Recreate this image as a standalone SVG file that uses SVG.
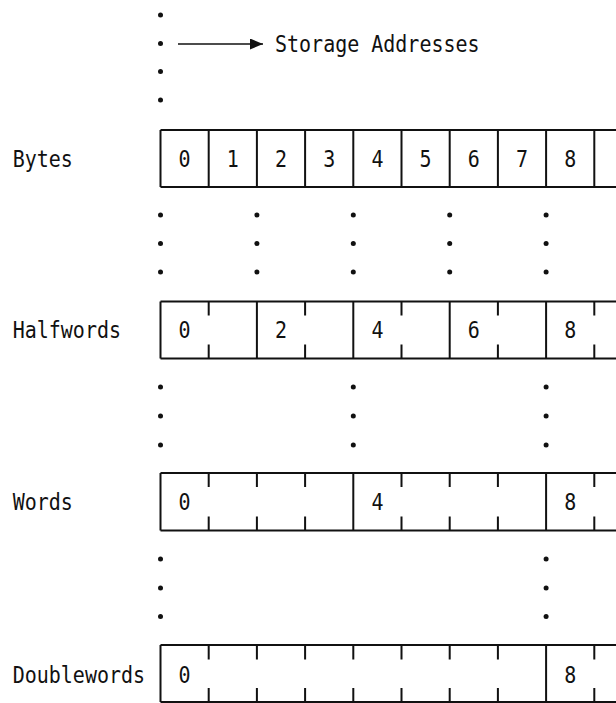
<svg xmlns="http://www.w3.org/2000/svg" width="616" height="703" viewBox="0 0 616 703">
<style>
text{font-family:"DejaVu Sans Mono","Liberation Mono",monospace;font-size:20px;fill:#111}
.d{text-anchor:middle}
.b{stroke:#111;stroke-width:2;fill:none}
.dot{fill:#111}
</style>
<defs>
<marker id="ah" markerWidth="13" markerHeight="11" refX="13" refY="5.5" orient="auto" markerUnits="userSpaceOnUse">
<polygon points="0,0 13,5.5 0,11" fill="#111"/>
</marker>
</defs>
<rect width="616" height="703" fill="#fff"/>

<g id="top-dots">
<circle class="dot" cx="160.5" cy="15" r="2.5"/>
<circle class="dot" cx="160.5" cy="43.5" r="2.5"/>
<circle class="dot" cx="160.5" cy="71.6" r="2.5"/>
<circle class="dot" cx="160.5" cy="100" r="2.5"/>
</g>

<g id="connectors">
<line x1="178" y1="44" x2="263" y2="44" stroke="#111" stroke-width="1.3" marker-end="url(#ah)"/>
</g>

<g id="storage-addresses">
<text transform="translate(275,52) scale(1,1.12)">Storage Addresses</text>
</g>

<g id="bytes">
<text transform="translate(12.7,166.5) scale(1,1.12)">Bytes</text>
<path class="b" d="M160.5 130H616M160.5 187H616
M160.5 130V187M208.7 130V187M256.9 130V187M305.1 130V187M353.3 130V187M401.5 130V187M449.7 130V187M497.9 130V187M546.1 130V187M594.3 130V187"/>
<g class="d">
<text transform="translate(184.6,166.5) scale(1,1.12)">0</text>
<text transform="translate(232.8,166.5) scale(1,1.12)">1</text>
<text transform="translate(281,166.5) scale(1,1.12)">2</text>
<text transform="translate(329.2,166.5) scale(1,1.12)">3</text>
<text transform="translate(377.4,166.5) scale(1,1.12)">4</text>
<text transform="translate(425.6,166.5) scale(1,1.12)">5</text>
<text transform="translate(473.8,166.5) scale(1,1.12)">6</text>
<text transform="translate(522,166.5) scale(1,1.12)">7</text>
<text transform="translate(570.2,166.5) scale(1,1.12)">8</text>
</g>
</g>

<g id="dots-1">
<circle class="dot" cx="160.5" cy="215" r="2.5"/><circle class="dot" cx="160.5" cy="243.5" r="2.5"/><circle class="dot" cx="160.5" cy="272" r="2.5"/>
<circle class="dot" cx="256.9" cy="215" r="2.5"/><circle class="dot" cx="256.9" cy="243.5" r="2.5"/><circle class="dot" cx="256.9" cy="272" r="2.5"/>
<circle class="dot" cx="353.3" cy="215" r="2.5"/><circle class="dot" cx="353.3" cy="243.5" r="2.5"/><circle class="dot" cx="353.3" cy="272" r="2.5"/>
<circle class="dot" cx="449.7" cy="215" r="2.5"/><circle class="dot" cx="449.7" cy="243.5" r="2.5"/><circle class="dot" cx="449.7" cy="272" r="2.5"/>
<circle class="dot" cx="546.1" cy="215" r="2.5"/><circle class="dot" cx="546.1" cy="243.5" r="2.5"/><circle class="dot" cx="546.1" cy="272" r="2.5"/>
</g>

<g id="halfwords">
<text transform="translate(12.7,338) scale(1,1.12)">Halfwords</text>
<path class="b" d="M160.5 301.5H616M160.5 358.5H616
M160.5 301.5V358.5M256.9 301.5V358.5M353.3 301.5V358.5M449.7 301.5V358.5M546.1 301.5V358.5
M208.7 301.5V315.5M305.1 301.5V315.5M401.5 301.5V315.5M497.9 301.5V315.5M594.3 301.5V315.5
M208.7 358.5V344.5M305.1 358.5V344.5M401.5 358.5V344.5M497.9 358.5V344.5M594.3 358.5V344.5"/>
<g class="d">
<text transform="translate(184.6,338) scale(1,1.12)">0</text>
<text transform="translate(281,338) scale(1,1.12)">2</text>
<text transform="translate(377.4,338) scale(1,1.12)">4</text>
<text transform="translate(473.8,338) scale(1,1.12)">6</text>
<text transform="translate(570.2,338) scale(1,1.12)">8</text>
</g>
</g>

<g id="dots-2">
<circle class="dot" cx="160.5" cy="387" r="2.5"/><circle class="dot" cx="160.5" cy="416" r="2.5"/><circle class="dot" cx="160.5" cy="445" r="2.5"/>
<circle class="dot" cx="353.3" cy="387" r="2.5"/><circle class="dot" cx="353.3" cy="416" r="2.5"/><circle class="dot" cx="353.3" cy="445" r="2.5"/>
<circle class="dot" cx="546.1" cy="387" r="2.5"/><circle class="dot" cx="546.1" cy="416" r="2.5"/><circle class="dot" cx="546.1" cy="445" r="2.5"/>
</g>

<g id="words">
<text transform="translate(12.7,510) scale(1,1.12)">Words</text>
<path class="b" d="M160.5 473H616M160.5 530.5H616
M160.5 473V530.5M353.3 473V530.5M546.1 473V530.5
M208.7 473V487M256.9 473V487M305.1 473V487M401.5 473V487M449.7 473V487M497.9 473V487M594.3 473V487
M208.7 530.5V516.5M256.9 530.5V516.5M305.1 530.5V516.5M401.5 530.5V516.5M449.7 530.5V516.5M497.9 530.5V516.5M594.3 530.5V516.5"/>
<g class="d">
<text transform="translate(184.6,510) scale(1,1.12)">0</text>
<text transform="translate(377.4,510) scale(1,1.12)">4</text>
<text transform="translate(570.2,510) scale(1,1.12)">8</text>
</g>
</g>

<g id="dots-3">
<circle class="dot" cx="160.5" cy="559" r="2.5"/><circle class="dot" cx="160.5" cy="588" r="2.5"/><circle class="dot" cx="160.5" cy="616.5" r="2.5"/>
<circle class="dot" cx="546.1" cy="559" r="2.5"/><circle class="dot" cx="546.1" cy="588" r="2.5"/><circle class="dot" cx="546.1" cy="616.5" r="2.5"/>
</g>

<g id="doublewords">
<text transform="translate(12.7,683) scale(1,1.12)">Doublewords</text>
<path class="b" d="M160.5 645H616M160.5 702H616
M160.5 645V702M546.1 645V702
M208.7 645V659.5M256.9 645V659.5M305.1 645V659.5M353.3 645V659.5M401.5 645V659.5M449.7 645V659.5M497.9 645V659.5M594.3 645V659.5
M208.7 702V688M256.9 702V688M305.1 702V688M353.3 702V688M401.5 702V688M449.7 702V688M497.9 702V688M594.3 702V688"/>
<g class="d">
<text transform="translate(184.6,683) scale(1,1.12)">0</text>
<text transform="translate(570.2,683) scale(1,1.12)">8</text>
</g>
</g>
</svg>
